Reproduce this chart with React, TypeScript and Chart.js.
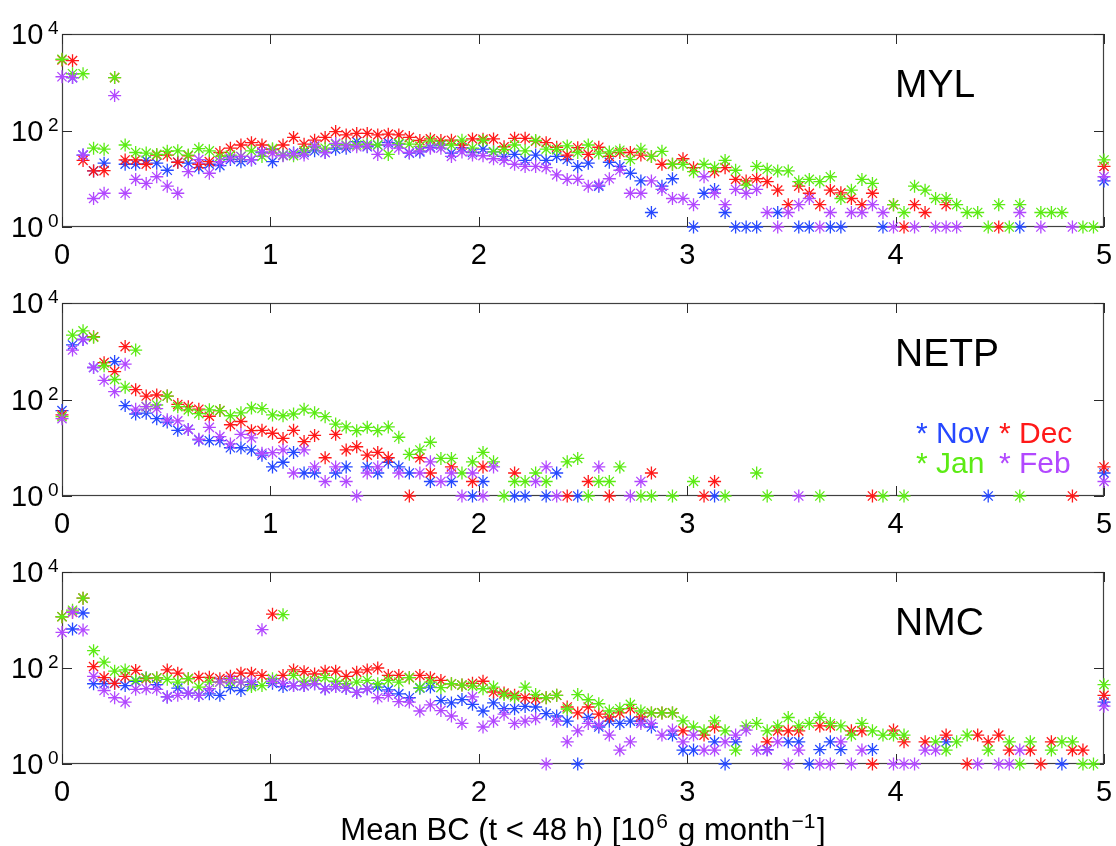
import React, { useEffect, useRef } from "react";
import { Chart, registerables } from "chart.js";

Chart.register(...registerables);

const _ = null;

// 100 bin centres, linspace(0, 5, 100)
const binX: number[] = Array.from({ length: 100 }, (_v, i) => (i * 5) / 99);

const months = ["Nov", "Dec", "Jan", "Feb"];
const monthColors = ["rgb(38,72,255)", "rgb(255,25,25)", "rgb(92,235,20)", "rgb(178,72,255)"];
const panelTitles = ["MYL", "NETP", "NMC"];
const xTickValues = [0, 1, 2, 3, 4, 5];
const yTickExponents = [0, 2, 4];
const xTitleParts = [
  { t: "Mean BC (t < 48 h) [10", sup: false },
  { t: "6", sup: true },
  { t: " g month", sup: false },
  { t: "\u22121", sup: true },
  { t: "]", sup: false },
];

// ---------- MYL ----------
const mylNov = [
  _, 1250, 31, 14.5, 21, _, 20, 20, 24, 21,
  15, 22, 21, 17, 20, 18.7, 25, 22.6, 24.5, 35,
  22.6, 31, 34, 35, 38, 35, 41, 43, 59, 46,
  50, 56, 52, 34, 36, 45, 50, 34, 44, 35,
  41, 36, 29, 32, 24, 31, 24, 29, 25, 18,
  21, 7, 22, 18, 13, 9, 2, 7, 10, _,
  1, 5, 6, 2, 1, 1, 1, _, 2, _,
  1, 1, _, 1, 1, _, _, _, 1, _,
  _, _, _, _, _, _, _, _, _, _,
  _, 1, _, _, _, _, _, _, _, 9,
];
const mylDec = [
  2900, 2800, 24, 14.5, 14.7, 1250, 24.5, 24.5, 20, 31,
  31, 22, 30, 20, 22.6, 35, 43, 50, 56, 50,
  40, 50, 72, 52, 63, 72, 95, 81, 87, 87,
  81, 84, 81, 72, 62, 67, 62, 63, 50, 67,
  66, 67, 46, 69, 69, 60, 56, 45, 31, 44,
  32, 45, 29, 35, 35, 31, 29, 20, 20, 26,
  17, _, 14, 17, 9.7, 9, 10, 8.7, 5.8, 2.9,
  7, 5, 2.9, 5.8, 5.1, 3.9, 2.9, 5, _, 2.9,
  1, 2.9, 2, _, 2.9, _, _, _, _, 1,
  _, _, _, _, _, _, _, _, _, 18,
];
const mylJan = [
  3000, 1500, 1500, 43, 41, 1250, 50, 35, 34, 32,
  37, 38, 31, 42, 38, 29, 31, 29, 38, 29,
  42, 31, 30, 38, 46, 43, 52, 50, 50, 52,
  50, 32, 54, 52, 47, 60, 52, 50, 63, 43,
  62, 36, 40, 50, 38, 62, 41, 40, 48, 35,
  50, 34, 36, 39, 25, 41, 29, 37, 20, 20,
  14, 20, 17, 24, 15, 7.4, 18, 15.7, 14.5, 14.5,
  8.7, 9.7, 8.7, 11, 3.9, 5.8, 9.7, 8, _, 2.9,
  2, 7, 5.8, 3.9, 3.9, 2.9, 2, 2, 1, 2.9,
  1, 2.9, _, 2, 2, 2, _, 1, 1, 24.5,
];
const mylFeb = [
  1300, 1250, 31, 3.9, 5, 530, 5, 9.7, 8, 11,
  7, 5, 14, 25, 13, 22.6, 27, 29, 25, 36,
  34, 30, 33, 31, 48, 35, 54, 48, 46, 48,
  32, 50, 43, 35, 38, 43, 43, 29, 36, 31,
  30, 26, 24, 20, 18, 18, 17, 12, 9.7, 9.7,
  7, 7.4, 10, 15, 5, 5, 9, 6, 3.9, 3.9,
  2.9, 11, 5, 2.9, 6, 5, 6, 2, 1, 2,
  2.9, 3.9, 1, 2, _, 2, 2, 2.9, 2, 1,
  _, 1, _, 1, 1, 1, _, _, _, _,
  _, 2, _, 1, _, _, 1, _, _, 11,
];

// ---------- NETP ----------
const netpNov = [
  59, 1350, 1750, 460, _, 610, 75, 50, 52, 40,
  34, 23, 24, 14.5, 14, 14, 10, 10, 9, 7,
  4, 5, 8, 3, 3, _, 3, 4, _, 4,
  3, 5, 4, 3, _, 2, _, 2, _, 1,
  2, _, _, 1, 1, _, 1, 3, _, 1,
  _, _, _, _, _, _, _, _, _, _,
  _, _, 1, _, _, _, _, _, _, _,
  _, _, _, _, _, _, _, _, _, _,
  _, _, _, _, _, _, _, _, 1, _,
  _, _, _, _, _, _, _, _, _, 3,
];
const netpDec = [
  48, _, _, 2000, 580, 380, 1250, 160, 118, 124,
  118, 79, 71, 63, 45, 59, 30, 35, 22.6, 23,
  20, 15.6, 23, 13.4, 18, 6.2, 19, 9, 10.5, 7,
  8, 6.2, _, 1, 6.2, 3, _, 4, _, 2,
  4, _, _, 3, _, _, _, _, 1, _,
  2, _, 1, _, _, _, 3, _, _, _,
  _, 1, 2, _, _, _, _, _, _, _,
  _, _, _, _, _, _, _, 1, _, _,
  _, _, _, _, _, _, _, _, _, _,
  _, _, _, _, _, _, 1, _, _, 4,
];
const netpJan = [
  44, 2150, 2650, 1950, 500, 260, 180, 1060, 71, 77,
  118, 71, 61, 51, 61, 59, 46, 53, 67, 65,
  48, 46, 50, 63, 53, 44, 31, 27, 22.6, 26.5,
  22.6, 27, 16.5, 7.3, 9, 13, 6, 6, 3, 5.1,
  8, 5.1, 1, 2, 2, 3, 2, _, 5.1, 6,
  1, 2, 2, 4, _, 1, 1, _, 1, _,
  2, _, _, 1, _, _, 3, 1, _, _,
  _, _, 1, _, _, _, _, _, 1, _,
  1, _, _, _, _, _, _, _, _, _,
  _, 1, _, _, _, _, _, _, _, _,
];
const netpFeb = [
  40, 1060, 1750, 460, 250, 145, 540, 63, 71, 65,
  38, 36, 24, 15, 26.5, 17, 12, 19, 16, 7.7,
  7.9, 9, 3, 9, 4, 2, 4, 2, 1, 3,
  4, _, 3, _, 3, 5.1, 2, 3, 1, 3,
  1, 4, _, _, _, 2, 4, 1, _, _,
  _, 4, _, _, 1, 2, _, _, _, _,
  _, _, _, _, _, _, _, _, _, _,
  1, _, _, _, _, _, _, _, _, _,
  _, _, _, _, _, _, _, _, _, _,
  _, _, _, _, _, _, _, _, _, 2,
];

// ---------- NMC ----------
const nmcNov = [
  _, 650, 1400, 47, 47, 48, 43, 53, 62, 45,
  25, 38, 30, 27, 29, 27, 39, 34, 45, _,
  48, 41, 43, 43, 47, 37, 41, 38, 31, 37,
  40, 35, 29, 24, 38, 40, 21, 18.7, 22, 17.5,
  12.7, 18.7, 14.2, 14.2, 15.8, 15.4, 11.2, 10, 7.8, 1,
  9.3, 5.9, 7.8, 7, 7.8, 7.8, 5.9, _, 4, 1.95,
  1.95, _, 2.9, 1, 2.9, _, _, 2, _, 2.9,
  2.9, 1, 2, 2.9, 2, _, _, 2, _, _,
  _, _, _, _, 2.9, _, _, _, _, _,
  _, _, _, _, _, 1, _, _, _, 19.5,
];
const nmcDec = [
  1170, 1450, 2850, 107, 63, 48, 67, 89, 60, 62,
  91, 78, 60, 64, 64, 60, 67, 78, 78, 70,
  1320, 70, 91, 84, 75, 86, 86, 67, 82, 91,
  100, 70, 70, 63, 70, 63, 55, 47, 44, 48,
  53, 31.6, 30, 27, 24, 23, 24, 27, 15.4, 11.6,
  15.4, 10.9, 9.6, 11.6, 14.2, 9.6, 11.6, 11.6, 11.6, 4.9,
  _, 4, 5.9, _, _, _, _, 2.9, 4.9, 4.9,
  4.9, _, 6.2, 6.2, _, 4.9, 4.9, 1, _, 5.1,
  2.9, _, 2.9, _, 4, _, 1, 4, 2.9, 4,
  1.95, _, 1.95, 1, 2.9, _, 1.95, 1.95, _, 27,
];
const nmcJan = [
  1170, 1600, 2850, 230, 132, 86, 91, 55, 62, 62,
  58, 51, 60, 40, 51, 51, 51, 51, 41, 43,
  60, 1290, 70, 53, 55, 63, 53, 47, 51, 55,
  47, 55, 51, 63, 39, 51, 39, 47, 44, 42,
  37, 40, 28, 25, 40, 28, 24, 27, 14, 28,
  21.8, 18, 12.7, 14.2, 17.5, 12.7, 11.6, 11.6, 11.6, 7.9,
  5.9, 4.9, 7.9, 4.9, 1.95, 6.2, 7, 4.9, 6.2, 9.3,
  6.2, 7, 9.3, 7, 6.2, 4, 7, 4.9, 4, 4,
  4, _, _, 2.9, 1.95, 2.9, 4, _, 1.95, _,
  2.9, 1, 2.9, _, 1.95, 2.9, 2.9, 1, 1, 45,
];
const nmcFeb = [
  550, 1450, 620, 67, 34, 24, 19.5, 36, 37, 36,
  25, 27, 30, 27, 37, 51, 57, 51, 51, 630,
  53, 48, 43, 43, 47, 37, 41, 38, 31, 37,
  24, 27, 20, 19.5, 12.7, 17, 13, 10, 7, 25,
  5.9, 7.8, 10.9, 7, 7.8, 8.8, 1, 7.8, 2.9, 4.9,
  7, 6.4, 4, 1.95, 2.9, 7, 7, 4, 5.1, 2.9,
  4, 1.95, 1.95, 2.9, 4, 5.1, 1.95, 1.95, 2.9, 1,
  1.95, _, 1, 1, 2.9, 1, 1.95, _, _, 1,
  1, 1, 1.95, 1.95, _, _, _, 1, _, 1,
  1, 1.95, _, _, _, _, _, _, _, 16,
];

const panelSeries = [
  [mylNov, mylDec, mylJan, mylFeb],
  [netpNov, netpDec, netpJan, netpFeb],
  [nmcNov, nmcDec, nmcJan, nmcFeb],
];

// layout (not data)
const panelLayout = [
  { top: 0, height: 270, padTop: 34, padBottom: 43, legend: false, xTitle: false },
  { top: 270, height: 270, padTop: 33, padBottom: 44, legend: true, xTitle: false },
  { top: 540, height: 306, padTop: 32, padBottom: 82, legend: false, xTitle: true },
];

const FAMILY = '"Liberation Sans", Arial, Helvetica, sans-serif';
const font = (px: number) => `${px}px ${FAMILY}`;

const framePlugin = {
  id: "frame",
  beforeDatasetsDraw(chart: any) {
    const { ctx, chartArea: a, scales } = chart;
    const x = scales.x;
    const y = scales.y;
    ctx.save();
    ctx.strokeStyle = "#404040";
    ctx.lineWidth = 1.2;
    ctx.strokeRect(a.left + 0.5, a.top + 0.5, a.right - a.left - 1, a.bottom - a.top - 1);
    ctx.strokeStyle = "#2a2a2a";
    ctx.lineWidth = 1;
    ctx.beginPath();
    for (const t of xTickValues) {
      const px = Math.round(x.getPixelForValue(t)) + 0.5;
      ctx.moveTo(px, a.bottom);
      ctx.lineTo(px, a.bottom - 10);
      ctx.moveTo(px, a.top);
      ctx.lineTo(px, a.top + 10);
    }
    for (const e of yTickExponents) {
      const py = Math.round(y.getPixelForValue(Math.pow(10, e))) + 0.5;
      ctx.moveTo(a.left, py);
      ctx.lineTo(a.left + 10, py);
      ctx.moveTo(a.right, py);
      ctx.lineTo(a.right - 10, py);
    }
    ctx.stroke();
    ctx.restore();
  },
  afterDraw(chart: any, _args: any, opts: any) {
    const { ctx, chartArea: a, scales } = chart;
    const x = scales.x;
    const y = scales.y;
    ctx.save();
    ctx.fillStyle = "#000";
    ctx.textBaseline = "alphabetic";
    // x tick labels
    ctx.font = font(29);
    ctx.textAlign = "center";
    for (const t of xTickValues) {
      ctx.fillText(String(t), x.getPixelForValue(t), a.bottom + 37);
    }
    // y tick labels 10^e
    ctx.textAlign = "left";
    for (const e of yTickExponents) {
      const py = y.getPixelForValue(Math.pow(10, e));
      ctx.font = font(29);
      ctx.fillText("10", 11, py + 10.4);
      ctx.font = font(19);
      ctx.fillText(String(e), 48, py);
    }
    // panel title
    ctx.font = font(39);
    ctx.fillText(opts.title, 895, a.top + 62.5);
    // legend
    if (opts.legend) {
      ctx.font = font(30);
      const rows = [
        [0, 1],
        [2, 3],
      ];
      rows.forEach((row, r) => {
        const base = a.top + 140 + r * 29.5;
        row.forEach((k, c) => {
          ctx.fillStyle = monthColors[k];
          ctx.fillText("* " + months[k], c === 0 ? 916 : 999, base);
        });
      });
      ctx.fillStyle = "#000";
    }
    // x-axis title
    if (opts.xTitle) {
      const size = 31;
      const supSize = 21;
      const base = a.bottom + 76;
      let total = 0;
      const widths = xTitleParts.map((s) => {
        ctx.font = font(s.sup ? supSize : size);
        const w = ctx.measureText(s.t).width + (s.sup ? 3 : 0);
        total += w;
        return w;
      });
      let xx = (a.left + a.right) / 2 - total / 2;
      xTitleParts.forEach((s, k) => {
        ctx.font = font(s.sup ? supSize : size);
        ctx.fillText(s.t, xx + (s.sup ? 1.5 : 0), s.sup ? base - 12.5 : base);
        xx += widths[k];
      });
    }
    ctx.restore();
  },
};

function Panel({ index }: { index: number }) {
  const ref = useRef<HTMLCanvasElement>(null);
  const lay = panelLayout[index];
  useEffect(() => {
    const series = panelSeries[index];
    const chart = new Chart(ref.current as HTMLCanvasElement, {
      type: "scatter",
      data: {
        datasets: months.map((m, k) => ({
          label: m,
          data: series[k]
            .map((v, i) => (v == null ? null : { x: binX[i], y: v }))
            .filter((p) => p !== null) as any,
          pointStyle: "star",
          pointRadius: 6.5,
          pointHoverRadius: 6.5,
          pointBorderWidth: 1.3,
          borderWidth: 1.3,
          borderColor: monthColors[k],
          backgroundColor: monthColors[k],
          clip: false as any,
          order: 3 - k,
        })),
      },
      options: {
        responsive: false,
        animation: false,
        events: [],
        layout: { padding: { left: 62, right: 12, top: lay.padTop, bottom: lay.padBottom } },
        scales: {
          x: { type: "linear", min: 0, max: 5, display: false },
          y: { type: "logarithmic", min: 1, max: 10000, display: false },
        },
        plugins: {
          legend: { display: false },
          tooltip: { enabled: false },
          frame: { title: panelTitles[index], legend: lay.legend, xTitle: lay.xTitle },
        } as any,
      },
      plugins: [framePlugin as any],
    });
    return () => chart.destroy();
  }, []);
  return (
    <canvas
      ref={ref}
      width={1116}
      height={lay.height}
      style={{ position: "absolute", left: 0, top: lay.top, width: 1116, height: lay.height }}
    />
  );
}

export default function App() {
  return (
    <div style={{ position: "fixed", left: 0, top: 0, width: 1116, height: 846, background: "#fff" }}>
      {panelLayout.map((_l, i) => (
        <Panel key={i} index={i} />
      ))}
    </div>
  );
}
